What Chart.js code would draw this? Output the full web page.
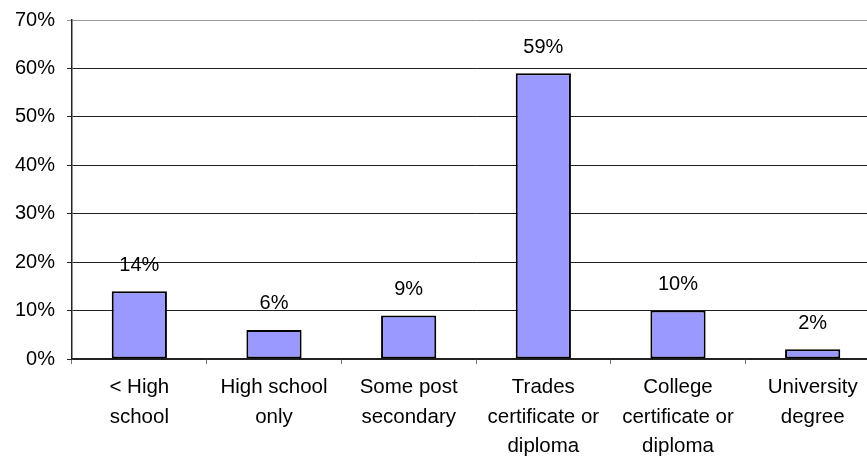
<!DOCTYPE html>
<html>
<head>
<meta charset="utf-8">
<script src="https://cdn.jsdelivr.net/npm/chart.js@4/dist/chart.umd.min.js"></script>
<style>
  html, body { margin: 0; padding: 0; background: #fff; overflow: hidden; }
  #wrap { width: 880px; height: 459px; }
</style>
</head>
<body>
<div id="wrap"><canvas id="eduChart" width="880" height="459"></canvas></div>
<script>
// education level categories (multi-line labels)
const categories = [
  ['< High', 'school'],
  ['High school', 'only'],
  ['Some post', 'secondary'],
  ['Trades', 'certificate or', 'diploma'],
  ['College', 'certificate or', 'diploma'],
  ['University', 'degree']
];
const shares = [14, 6, 9, 59, 10, 2];
const yTicks = [0, 10, 20, 30, 40, 50, 60, 70];

const FONT = { family: 'Liberation Sans, Arial, sans-serif', size: 20 };

// writes the percentage above each bar
const valueLabels = {
  id: 'valueLabels',
  afterDatasetsDraw(chart) {
    const ctx = chart.ctx;
    const meta = chart.getDatasetMeta(0);
    ctx.save();
    ctx.font = FONT.size + 'px ' + FONT.family;
    ctx.fillStyle = '#000';
    ctx.textAlign = 'center';
    ctx.textBaseline = 'middle';
    meta.data.forEach((bar, i) => {
      ctx.fillText(shares[i] + '%', bar.x, bar.y - 26);
    });
    ctx.restore();
  }
};

new Chart(document.getElementById('eduChart'), {
  type: 'bar',
  data: {
    labels: categories,
    datasets: [{
      data: shares,
      backgroundColor: '#9999ff',
      borderColor: '#000',
      borderWidth: 2,
      borderSkipped: false,
      categoryPercentage: 1,
      barPercentage: 0.41
    }]
  },
  options: {
    responsive: false,
    animation: false,
    layout: { padding: { top: 20, right: 0, left: 0, bottom: 0 } },
    plugins: { legend: { display: false }, tooltip: { enabled: false } },
    scales: {
      y: {
        min: 0,
        max: 70,
        afterBuildTicks(axis) { axis.ticks = yTicks.map(v => ({ value: v })); },
        afterFit(axis) {
          axis.width = 72;
          axis.paddingTop = 0;
          axis.paddingBottom = 0;
        },
        ticks: {
          color: '#000',
          font: FONT,
          padding: 12,
          callback: v => v + '%'
        },
        grid: {
          color: ctx => ctx.tick && ctx.tick.value === 70 ? '#999' : '#222',
          lineWidth: 1,
          tickLength: 5
        },
        border: { color: '#222', width: 1.5 }
      },
      x: {
        afterFit(axis) { axis.height = 100; },
        ticks: {
          color: '#000',
          font: { family: FONT.family, size: 20.5, lineHeight: 1.46 },
          padding: 8,
          maxRotation: 0,
          autoSkip: false
        },
        grid: {
          drawOnChartArea: false,
          color: '#777',
          tickLength: 5,
          offset: true
        },
        border: { color: '#222', width: 1.5 }
      }
    }
  },
  plugins: [valueLabels]
});
</script>
</body>
</html>
